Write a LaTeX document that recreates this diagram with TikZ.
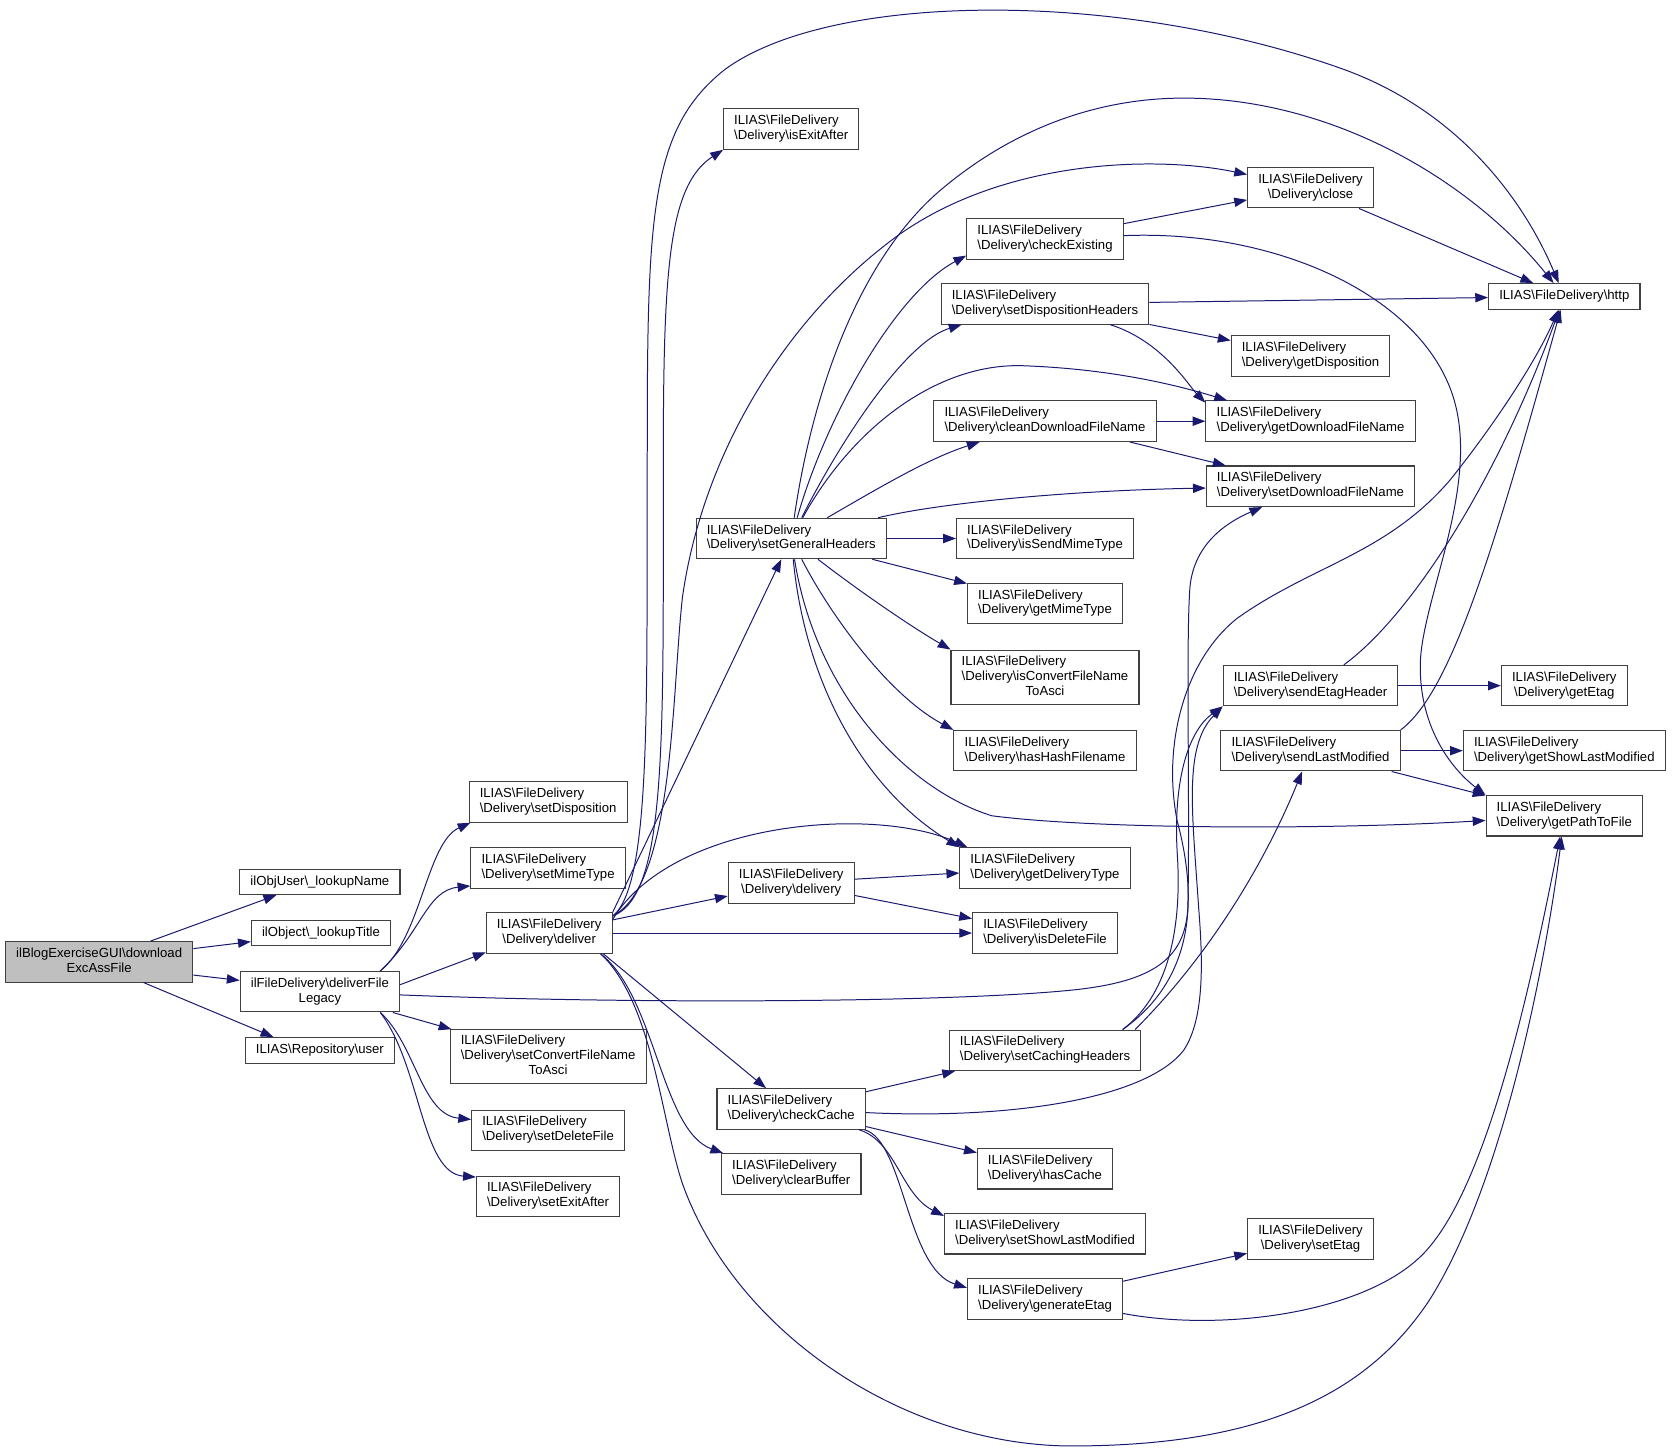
\documentclass[tikz,border=0pt]{standalone}
\usepackage{fontspec}
\setmainfont{Liberation Sans}
\usetikzlibrary{arrows.meta}
\definecolor{edgeblue}{rgb}{0.098, 0.098, 0.439}
\definecolor{nodegray}{rgb}{0.75, 0.75, 0.75}
\definecolor{boxframe}{rgb}{0.25, 0.25, 0.25}
\newcommand{\twol}[2]{\begin{tabular}{@{}c@{}}\multicolumn{1}{@{}l@{}}{#1}\\#2\end{tabular}}
\newcommand{\fd}[1]{\twol{ILIAS\textbackslash FileDelivery}{\textbackslash Delivery\textbackslash #1}}
\newcommand{\fdthree}[2]{\begin{tabular}{@{}c@{}}\multicolumn{1}{@{}l@{}}{ILIAS\textbackslash FileDelivery}\\\multicolumn{1}{@{}l@{}}{\textbackslash Delivery\textbackslash #1}\\#2\end{tabular}}

\begin{document}
\begin{tikzpicture}
			[x=0.75pt, y=-0.75pt,
			fn/.style={draw=boxframe, fill=white, line width=0.75pt, inner xsep=7.5pt, inner ysep=0pt, minimum height=28.5pt, font=\fontsize{9.25}{10.5}\selectfont},
			fnone/.style={fn, minimum height=18pt},
			fnthree/.style={fn, minimum height=38pt},
			call/.style={draw=edgeblue, line width=0.7pt, -{Triangle[length=9pt, width=6.5pt]}}]
			\useasboundingbox (0,0) rectangle (1568,1360);
			
			\node[fn, fill=nodegray] (blog) at (93,902) {\twol{ilBlogExerciseGUI\textbackslash download}{ExcAssFile}};
			\node[fnone] (lookupName) at (300,827) {ilObjUser\textbackslash\_lookupName};
			\node[fnone] (lookupTitle) at (301,875) {ilObject\textbackslash\_lookupTitle};
			\node[fn] (legacy) at (300,930) {\twol{ilFileDelivery\textbackslash deliverFile}{Legacy}};
			\node[fnone] (repoUser) at (300,985) {ILIAS\textbackslash Repository\textbackslash user};
			
			\node[fn] (setDisposition) at (514,752) {\fd{setDisposition}};
			\node[fn] (setMimeType) at (514,814) {\fd{setMimeType}};
			\node[fn] (deliver) at (515,875) {\fd{deliver}};
			\node[fnthree] (setConvert) at (514,991) {\fdthree{setConvertFileName}{ToAsci}};
			\node[fn] (setDeleteFile) at (514,1060) {\fd{setDeleteFile}};
			\node[fn] (setExitAfter) at (514,1122) {\fd{setExitAfter}};
			
			\node[fn] (isExitAfter) at (742,121) {\fd{isExitAfter}};
			\node[fn] (setGeneralHeaders) at (742,505) {\fd{setGeneralHeaders}};
			\node[fn] (delivery) at (742,828) {\fd{delivery}};
			\node[fn] (checkCache) at (742,1040) {\fd{checkCache}};
			\node[fn] (clearBuffer) at (742,1101) {\fd{clearBuffer}};
			
			\node[fn] (checkExisting) at (980,224) {\fd{checkExisting}};
			\node[fn] (setDispHeaders) at (980,285) {\fd{setDispositionHeaders}};
			\node[fn] (cleanName) at (980,395) {\fd{cleanDownloadFileName}};
			\node[fn] (isSendMime) at (980,505) {\fd{isSendMimeType}};
			\node[fn] (getMime) at (980,566) {\fd{getMimeType}};
			\node[fnthree] (isConvert) at (980,635) {\fdthree{isConvertFileName}{ToAsci}};
			\node[fn] (hasHash) at (980,704) {\fd{hasHashFilename}};
			\node[fn] (getDeliveryType) at (980,814) {\fd{getDeliveryType}};
			\node[fn] (isDeleteFile) at (980,875) {\fd{isDeleteFile}};
			\node[fn] (setCaching) at (980,985) {\fd{setCachingHeaders}};
			\node[fn] (hasCache) at (980,1096) {\fd{hasCache}};
			\node[fn] (setShowLM) at (980,1157) {\fd{setShowLastModified}};
			\node[fn] (generateEtag) at (980,1218) {\fd{generateEtag}};
			
			\node[fn] (close) at (1229,176) {\fd{close}};
			\node[fn] (getDisposition) at (1229,334) {\fd{getDisposition}};
			\node[fn] (getDlName) at (1229,395) {\fd{getDownloadFileName}};
			\node[fn] (setDlName) at (1229,456) {\fd{setDownloadFileName}};
			\node[fn] (sendEtag) at (1229,643) {\fd{sendEtagHeader}};
			\node[fn] (sendLM) at (1229,704) {\fd{sendLastModified}};
			\node[fn] (setEtag) at (1229,1162) {\fd{setEtag}};
			
			\node[fnone] (http) at (1467,278) {ILIAS\textbackslash FileDelivery\textbackslash http};
			\node[fn] (getEtag) at (1467,643) {\fd{getEtag}};
			\node[fn] (getShowLM) at (1467,704) {\fd{getShowLastModified}};
			\node[fn] (getPath) at (1467,765) {\fd{getPathToFile}};
			
			\draw[call] (blog.22) -- (lookupName.197);
			\draw[call] (blog.8) -- (lookupTitle.187);
			\draw[call] (blog.-8) -- (legacy.172);
			\draw[call] (blog.-25) -- (repoUser.164);
			
			\draw[call] (legacy.19) .. controls (395,880) and (400,790) .. (setDisposition.195);
			\draw[call] (legacy.19) .. controls (395,875) and (400,835) .. (setMimeType.193);
			\draw[call] (legacy.5) -- (deliver.197);
			\draw[call] (legacy) -- (setConvert);
			\draw[call] (legacy.-19) .. controls (390,980) and (395,1045) .. (setDeleteFile.172);
			\draw[call] (legacy.-19) .. controls (395,1000) and (395,1100) .. (setExitAfter.165);
			\draw[call] (legacy) .. controls (600,942) and (900,940) .. (1010,928) .. controls (1080,920) and (1112,900) .. (1114,850) .. controls (1116,750) and (1112,600) .. (1116,550) .. controls (1120,510) and (1150,490) .. (setDlName);
			
			\draw[call] (deliver.15) .. controls (612,830) and (606,650) .. (607,420) .. controls (607,200) and (610,120) .. (680,65) .. controls (780,-8) and (1050,-10) .. (1260,65) .. controls (1370,105) and (1430,190) .. (http);
			\draw[call] (deliver.15) .. controls (625,840) and (622,700) .. (622,450) .. controls (622,260) and (625,175) .. (isExitAfter.south west);
			\draw[call] (deliver.15) .. controls (632,830) and (630,650) .. (640,560) .. controls (660,420) and (740,300) .. (830,230) .. controls (930,150) and (1080,145) .. (close);
			\draw[call] (deliver.18) -- (setGeneralHeaders);
			\draw[call] (deliver.12) .. controls (630,770) and (820,755) .. (getDeliveryType.165);
			\draw[call] (deliver) -- (delivery);
			\draw[call] (deliver) -- (isDeleteFile);
			\draw[call] (deliver.-21) -- (checkCache);
			\draw[call] (deliver.-22) .. controls (615,935) and (620,1060) .. (clearBuffer.163);
			\draw[call] (deliver.-22) .. controls (612,940) and (620,1050) .. (640,1110) .. controls (690,1250) and (850,1358) .. (1010,1356) .. controls (1180,1355) and (1280,1310) .. (1340,1220) .. controls (1410,1110) and (1450,900) .. (getPath);
			
			\draw[call] (setGeneralHeaders) .. controls (760,380) and (800,250) .. (880,180) .. controls (950,120) and (1030,92) .. (1110,92) .. controls (1250,92) and (1380,170) .. (http);
			\draw[call] (setGeneralHeaders) .. controls (775,390) and (840,275) .. (checkExisting.192);
			\draw[call] (setGeneralHeaders) .. controls (790,410) and (850,320) .. (setDispHeaders.194);
			\draw[call] (setGeneralHeaders) .. controls (800,400) and (880,340) .. (960,343) .. controls (1040,346) and (1100,360) .. (getDlName.166);
			\draw[call] (setGeneralHeaders) .. controls (820,460) and (870,430) .. (cleanName);
			\draw[call] (setGeneralHeaders) .. controls (880,472) and (1000,460) .. (setDlName);
			\draw[call] (setGeneralHeaders) -- (isSendMime);
			\draw[call] (setGeneralHeaders) -- (getMime);
			\draw[call] (setGeneralHeaders) .. controls (800,550) and (850,585) .. (isConvert.north west);
			\draw[call] (setGeneralHeaders) .. controls (775,570) and (830,650) .. (hasHash.north west);
			\draw[call] (setGeneralHeaders) .. controls (755,640) and (810,740) .. (getDeliveryType.north west);
			\draw[call] (setGeneralHeaders) .. controls (765,650) and (850,740) .. (930,765) .. controls (1030,778) and (1250,778) .. (getPath);
			
			\draw[call] (checkExisting) -- (close);
			\draw[call] (checkExisting) .. controls (1200,215) and (1340,280) .. (1365,380) .. controls (1385,460) and (1335,560) .. (1332,620) .. controls (1330,680) and (1360,720) .. (getPath.north west);
			\draw[call] (close) -- (http);
			\draw[call] (setDispHeaders) -- (http);
			\draw[call] (setDispHeaders) -- (getDisposition);
			\draw[call] (setDispHeaders) .. controls (1090,320) and (1115,362) .. (getDlName.170);
			\draw[call] (cleanName) -- (getDlName);
			\draw[call] (cleanName) -- (setDlName);
			\draw[call] (delivery) -- (getDeliveryType);
			\draw[call] (delivery) -- (isDeleteFile);
			
			\draw[call] (checkCache) -- (setCaching);
			\draw[call] (checkCache) .. controls (950,1050) and (1075,1030) .. (1110,985) .. controls (1130,955) and (1128,900) .. (1124,850) .. controls (1118,760) and (1110,700) .. (sendEtag.south west);
			\draw[call] (checkCache) -- (hasCache);
			\draw[call] (checkCache) .. controls (840,1070) and (845,1120) .. (setShowLM.170);
			\draw[call] (checkCache) .. controls (848,1070) and (850,1190) .. (generateEtag.172);
			
			\draw[call] (setCaching.15) .. controls (1100,930) and (1108,860) .. (1104,800) .. controls (1100,730) and (1115,685) .. (sendEtag.south west);
			\draw[call] (setCaching.15) .. controls (1110,925) and (1128,860) .. (1104,770) .. controls (1090,700) and (1110,620) .. (1160,580) .. controls (1230,530) and (1300,520) .. (1360,450) .. controls (1400,400) and (1440,340) .. (http);
			\draw[call] (setCaching.13) .. controls (1140,890) and (1190,800) .. (sendLM);
			
			\draw[call] (sendEtag.32) .. controls (1320,580) and (1400,460) .. (http);
			\draw[call] (sendEtag) -- (getEtag);
			\draw[call] (sendLM.north east) .. controls (1360,650) and (1400,520) .. (http);
			\draw[call] (sendLM) -- (getShowLM);
			\draw[call] (sendLM) -- (getPath);
			\draw[call] (generateEtag) -- (setEtag);
			\draw[call] (generateEtag) .. controls (1150,1250) and (1290,1230) .. (1340,1170) .. controls (1400,1100) and (1440,900) .. (getPath);
\end{tikzpicture}
\end{document}
